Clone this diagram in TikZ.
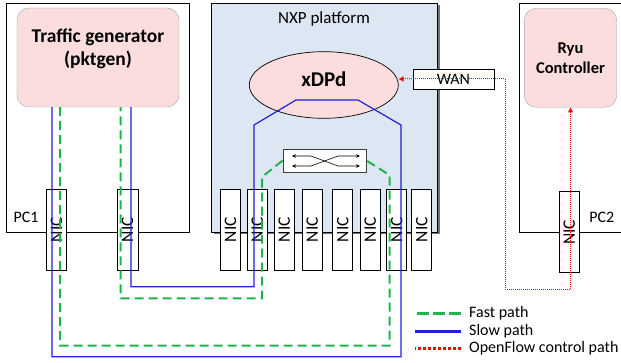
\documentclass[tikz,border=0pt]{standalone}
\usepackage{fontspec}
\setmainfont{Carlito}
\usetikzlibrary{arrows.meta, shapes.geometric}
\definecolor{AppFill}{RGB}{251,221,221}
\definecolor{PlatformFill}{RGB}{221,231,243}
\definecolor{FastGreen}{RGB}{34,178,76}
\definecolor{SlowBlue}{RGB}{32,32,222}
\definecolor{ControlRed}{RGB}{255,0,0}
\tikzset{
    machine/.style={draw=black, line width=0.9pt, fill=white},
    app box/.style={draw=black!35, fill=AppFill, rounded corners=12pt},
    app text/.style={align=center, font=\bfseries\fontsize{19.5}{23}\selectfont},
    plain text/.style={font=\fontsize{16}{19}\selectfont},
    nic/.style={
        draw=black, line width=0.8pt, fill=white, rotate=90,
        minimum width=81pt, minimum height=20pt, inner sep=0pt,
        font=\fontsize{17.5}{18}\selectfont
    },
    fast path/.style={draw=FastGreen, line width=2pt, dash pattern=on 9pt off 5pt},
    slow path/.style={draw=SlowBlue, line width=1.2pt},
    control path/.style={draw=ControlRed, line width=1pt, dash pattern=on 1pt off 1pt},
    control tip/.style={{Triangle[length=5pt, width=5pt]}-{Triangle[length=5pt, width=5pt]}},
    legend text/.style={anchor=west, inner sep=0pt, font=\fontsize{16}{19}\selectfont}
}

\begin{document}
\begin{tikzpicture}[x=1pt, y=-1pt]

\useasboundingbox (0,0) rectangle (621,363);
\clip (0,0) rectangle (621,363);

% Machines: PC1, NXP platform (with shadow) and PC2.
\draw[machine] (6,3) rectangle (189,232);
\fill[black!55] (213.5,5.5) rectangle (439.5,234.5);
\draw[machine, fill=PlatformFill] (211,3) rectangle (437,232);
\draw[machine] (519.7,3) rectangle (640,232.7);

\node[plain text] (pcone) at (26,217) {PC1};
\node[plain text] (pctwo) at (601.7,217) {PC2};
\node[plain text, font=\fontsize{17}{19}\selectfont] (nxp) at (324,18.5) {NXP platform};

% Applications.
\node[app box, minimum width=162pt, minimum height=99pt] (tg) at (98,57.5) {};
\node[app text] (tglabel) at (98,49) {Traffic generator\\(pktgen)};
\node[app box, minimum width=92.4pt, minimum height=99pt] (ryu) at (570.5,57.8) {};
\node[app text, font=\bfseries\fontsize{16.5}{20}\selectfont] (ryulabel) at (570.5,58.5) {Ryu\\Controller};
\node[ellipse, draw=black, line width=0.7pt, fill=AppFill, minimum width=149pt, minimum height=66.6pt] (xdpd) at (323.8,85) {};
\node[app text, font=\bfseries\fontsize{21}{24}\selectfont] (xdpdlabel) at (323.8,79.5) {xDPd};

% Switch inside the platform.
\node[draw=black!75, line width=0.8pt, fill=white, minimum width=83pt, minimum height=23pt] (sw) at (324.5,160.5) {};
\draw[{Stealth[length=4pt, width=3.5pt]}-{Stealth[length=4pt, width=3.5pt]}, line width=0.6pt]
    (292,156) -- (311,156) -- (338,166) -- (360,166);
\draw[{Stealth[length=4pt, width=3.5pt]}-{Stealth[length=4pt, width=3.5pt]}, line width=0.6pt]
    (292,166) -- (311,166) -- (338,156) -- (360,156);

% Network cards.
\node[nic] (nicA) at (56.5,229.5) {NIC};
\node[nic, minimum height=21pt] (nicB) at (127.5,229.5) {NIC};
\node[nic] (nxpnicA) at (230.5,229.5) {NIC};
\node[nic] (nxpnicB) at (257.3,229.5) {NIC};
\node[nic] (nxpnicC) at (284.3,229.5) {NIC};
\node[nic] (nxpnicD) at (312.3,229.5) {NIC};
\node[nic] (nxpnicE) at (342.7,229.5) {NIC};
\node[nic] (nxpnicF) at (370.3,229.5) {NIC};
\node[nic] (nxpnicG) at (396.7,229.5) {NIC};
\node[nic] (nxpnicH) at (421.7,229.5) {NIC};
\node[nic] (nicR) at (569.3,232.2) {NIC};
\node[draw=black, line width=0.8pt, fill=white, minimum width=81pt, minimum height=20pt, inner sep=0pt, plain text] (wan) at (453.5,79) {WAN};

% Slow path through xDPd.
\coordinate (SA) at (52,356.7);
\coordinate (SB) at (401,356.7);
\coordinate (SC) at (401,125);
\coordinate (SD) at (358,100);
\coordinate (SE) at (296,100);
\coordinate (SF) at (254,125);
\coordinate (SG) at (254,286.7);
\coordinate (SH) at (131,286.7);
\draw[slow path] ([xshift=-46pt]tg.south) -- (SA) -- (SB) -- (SC) -- (SD) -- (SE) -- (SF) -- (SG) -- (SH) -- ([xshift=33pt]tg.south);

% Fast path through the switch.
\coordinate (FA) at (60,345.7);
\coordinate (FB) at (389.5,345.7);
\coordinate (FC) at (389.5,175);
\coordinate (FD) at (262,177);
\coordinate (FE) at (262,298.3);
\coordinate (FF) at (120.7,298.3);
\draw[fast path] ([xshift=-38pt]tg.south) -- (FA) -- (FB) -- (FC) -- (sw.east);
\draw[fast path] (sw.west) -- (FD) -- (FE) -- (FF) -- ([xshift=22.7pt]tg.south);

% OpenFlow control path.
\coordinate (CA) at (505,79);
\coordinate (CB) at (505,289.3);
\coordinate (CC) at (570.5,289.3);
\draw[control path, control tip] (xdpd.east |- wan.west) -- (CA) -- (CB) -- (CC) -- (ryu.south);

% Legend.
\node[legend text] (lgfast) at (469,313.5) {Fast path};
\node[legend text] (lgslow) at (469,331.3) {Slow path};
\node[legend text] (lgctrl) at (469,348) {OpenFlow control path};
\draw[draw=FastGreen, line width=3pt, dash pattern=on 12pt off 4pt] ([xshift=-8pt]lgfast.west) -- ++(-46,0);
\draw[draw=SlowBlue, line width=3pt] ([xshift=-8pt]lgslow.west) -- ++(-46,0);
\draw[draw=ControlRed, line width=3pt, dash pattern=on 3pt off 2pt] ([xshift=-8pt]lgctrl.west) -- ++(-46,0);

\end{tikzpicture}
\end{document}
